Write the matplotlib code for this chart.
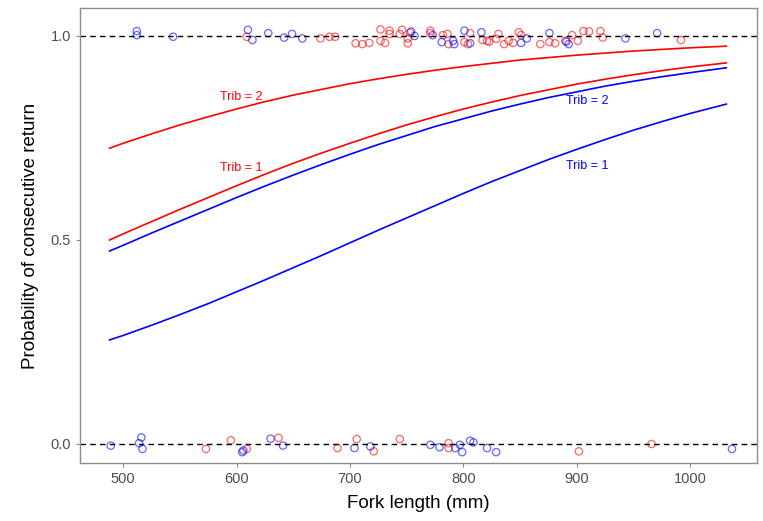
import numpy as np
import matplotlib
matplotlib.use("Agg")
import matplotlib.pyplot as plt

plt.rcParams['font.family'] = ['Liberation Sans', 'DejaVu Sans']

# Fitted curves
fork = [488, 500, 525, 550, 575, 600, 625, 650, 675, 700, 725, 750, 775, 800,
        825, 850, 875, 900, 925, 950, 975, 1000, 1032]
red_trib2 = [0.725, 0.737, 0.760, 0.782, 0.802, 0.821, 0.839, 0.855, 0.869, 0.883, 0.895, 0.906,
             0.916, 0.925, 0.933, 0.941, 0.947, 0.953, 0.958, 0.963, 0.967, 0.971, 0.975]
red_trib1 = [0.500, 0.515, 0.545, 0.575, 0.604, 0.633, 0.661, 0.688, 0.713, 0.737, 0.760, 0.782,
             0.802, 0.821, 0.838, 0.854, 0.868, 0.882, 0.894, 0.905, 0.915, 0.924, 0.934]
blue_trib2 = [0.473, 0.487, 0.517, 0.546, 0.575, 0.604, 0.632, 0.659, 0.685, 0.710, 0.734, 0.756,
              0.778, 0.797, 0.816, 0.833, 0.849, 0.863, 0.877, 0.889, 0.900, 0.910, 0.922]
blue_trib1 = [0.255, 0.266, 0.291, 0.317, 0.344, 0.373, 0.402, 0.432, 0.462, 0.493, 0.524, 0.554,
              0.584, 0.614, 0.643, 0.670, 0.697, 0.722, 0.746, 0.769, 0.790, 0.810, 0.833]

# Jittered observations
red_x = [609, 674, 682, 687, 705, 711, 717, 727, 727, 731, 735, 735, 744, 746, 753, 751, 751,
         771, 771, 782, 786, 787, 806, 801, 804, 817, 821, 823, 831, 829, 836, 840, 844, 849,
         851, 868, 876, 881, 890, 896, 901, 906, 911, 921, 923, 992,
         573, 595, 609, 637, 689, 706, 721, 744, 787, 787, 902, 966]
red_y = [0.998, 0.994, 0.998, 0.998, 0.982, 0.980, 0.983, 1.016, 0.988, 0.983, 1.013, 1.005,
         1.005, 1.015, 1.008, 0.982, 0.994, 1.013, 1.007, 1.002, 1.005, 0.980, 1.007, 0.985,
         0.980, 0.990, 0.988, 0.986, 1.005, 0.993, 0.980, 0.988, 0.983, 1.009, 1.002, 0.980,
         0.985, 0.982, 0.988, 1.002, 0.988, 1.012, 1.011, 1.012, 0.996, 0.990,
         -0.012, 0.009, -0.012, 0.015, -0.010, 0.012, -0.018, 0.012, 0.002, -0.010, -0.018, 0.000]
blue_x = [512, 512, 544, 610, 614, 628, 642, 649, 658, 754, 757, 773, 781, 791, 792, 801, 806,
          816, 851, 856, 876, 891, 893, 943, 971,
          489, 516, 514, 517, 605, 606, 630, 641, 704, 718, 771, 779, 793, 797, 799, 806, 809,
          821, 829, 1037]
blue_y = [1.012, 1.002, 0.998, 1.015, 0.990, 1.007, 0.996, 1.005, 0.994, 1.011, 1.000, 1.002,
          0.985, 0.988, 0.980, 1.013, 0.982, 1.009, 0.983, 0.994, 1.007, 0.986, 0.980, 0.994,
          1.007,
          -0.004, 0.016, 0.002, -0.012, -0.020, -0.016, 0.013, -0.004, -0.010, -0.006, -0.002,
          -0.008, -0.010, -0.002, -0.020, 0.008, 0.004, -0.010, -0.020, -0.012]

fig = plt.figure(figsize=(7.63, 5.21), dpi=100)
ax = fig.add_axes([0.105, 0.111, 0.887, 0.874])

ax.axhline(1, color="black", linestyle=(0, (4, 3)), linewidth=1)
ax.axhline(0, color="black", linestyle=(0, (4, 3)), linewidth=1)

ax.scatter(red_x, red_y, s=28, facecolors="none", edgecolors="red", alpha=0.6, linewidths=0.9)
ax.scatter(blue_x, blue_y, s=28, facecolors="none", edgecolors="blue", alpha=0.6, linewidths=0.9)

for ys, c in [(red_trib2, "red"), (red_trib1, "red"), (blue_trib2, "blue"), (blue_trib1, "blue")]:
    ax.plot(fork, ys, color=c, linewidth=1.2, solid_joinstyle="round")

ax.text(604, 0.850, "Trib = 2", color="red", fontsize=9, ha="center", va="center")
ax.text(604, 0.676, "Trib = 1", color="red", fontsize=9, ha="center", va="center")
ax.text(909, 0.841, "Trib = 2", color="blue", fontsize=9, ha="center", va="center")
ax.text(909, 0.681, "Trib = 1", color="blue", fontsize=9, ha="center", va="center")

ax.set_xlim(462, 1059)
ax.set_ylim(-0.047, 1.069)
ax.set_xticks([500, 600, 700, 800, 900, 1000])
ax.set_yticks([0.0, 0.5, 1.0])
ax.set_yticklabels(["0.0", "0.5", "1.0"])

for s in ax.spines.values():
    s.set_color("#8c8c8c")
    s.set_linewidth(1)
ax.tick_params(colors="#4d4d4d", labelsize=10.5, length=3, width=0.8)
ax.tick_params(axis="both", color="#8c8c8c")

ax.set_xlabel("Fork length (mm)", fontsize=13.5, labelpad=6)
ax.set_ylabel("Probability of consecutive return", fontsize=13.5, labelpad=8)

fig.savefig("out.png", dpi=100)
